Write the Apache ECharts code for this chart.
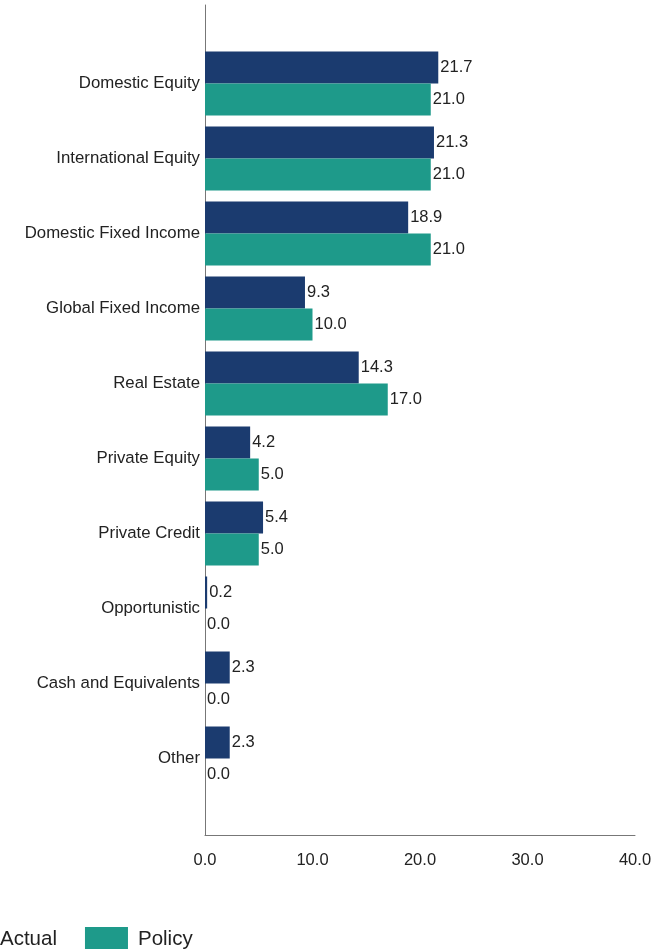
<!DOCTYPE html>
<html><head><meta charset="utf-8">
<script src="https://cdn.jsdelivr.net/npm/echarts@6/dist/echarts.min.js"></script>
<style>html,body{margin:0;padding:0;background:#fff}#c{width:667px;height:949px}</style>
</head><body><div id="c"></div>
<script>
const categories = ["Domestic Equity","International Equity","Domestic Fixed Income","Global Fixed Income","Real Estate","Private Equity","Private Credit","Opportunistic","Cash and Equivalents","Other"];
const actualValues = [21.7,21.3,18.9,9.3,14.3,4.2,5.4,0.2,2.3,2.3];
const policyValues = [21.0,21.0,21.0,10.0,17.0,5.0,5.0,0.0,0.0,0.0];
const xTicks = {min:0,max:40,interval:10};

const FONT = '"Liberation Sans", Arial, sans-serif';
const txt = '#222';
const chart = echarts.init(document.getElementById('c'), null, {renderer:'canvas'});
const lbl = {show:true, position:'right', distance:2, color:txt, fontFamily:FONT, fontSize:16.5,
  formatter: p => p.value.toFixed(1)};
chart.setOption({
  animation:false,
  backgroundColor:'#fff',
  grid:[
    {left:205, right:32, top:46, bottom:153, containLabel:false, outerBoundsMode:'none'},
    {left:205, right:32, top:5, bottom:114, containLabel:false, outerBoundsMode:'none'}
  ],
  legend:{
    data:['Actual','Policy'], left:-58, top:922, itemWidth:43, itemHeight:24, itemGap:28,
    icon:'rect', textStyle:{color:txt, fontFamily:FONT, fontSize:20.5, padding:[0,0,2,5]}
  },
  xAxis:[
    {gridIndex:0, type:'value', min:xTicks.min, max:xTicks.max, interval:xTicks.interval,
     axisLine:{show:false}, axisTick:{show:false}, axisLabel:{show:false}, splitLine:{show:false}},
    {gridIndex:1, type:'value', min:xTicks.min, max:xTicks.max, interval:xTicks.interval,
     axisLine:{show:true, lineStyle:{color:'#777', width:1}}, axisTick:{show:false}, splitLine:{show:false},
     axisLabel:{color:txt, fontFamily:FONT, fontSize:16.5, margin:17, formatter:v=>v.toFixed(1)}}
  ],
  yAxis:[
    {gridIndex:0, type:'category', data:categories, inverse:true,
     axisLine:{show:false}, axisTick:{show:false},
     axisLabel:{color:txt, fontFamily:FONT, fontSize:16.8, margin:5}},
    {gridIndex:1, type:'value', min:0, max:1,
     axisLine:{show:true, lineStyle:{color:'#777', width:1}}, axisTick:{show:false},
     axisLabel:{show:false}, splitLine:{show:false}}
  ],
  series:[
    {name:'Actual', type:'bar', xAxisIndex:0, yAxisIndex:0, data:actualValues, barWidth:32, barGap:'0%',
     itemStyle:{color:'#1b3b6f'}, label:lbl},
    {name:'Policy', type:'bar', xAxisIndex:0, yAxisIndex:0, data:policyValues, barWidth:32, barGap:'0%',
     itemStyle:{color:'#1e9a8a'}, label:lbl}
  ]
});
</script></body></html>
